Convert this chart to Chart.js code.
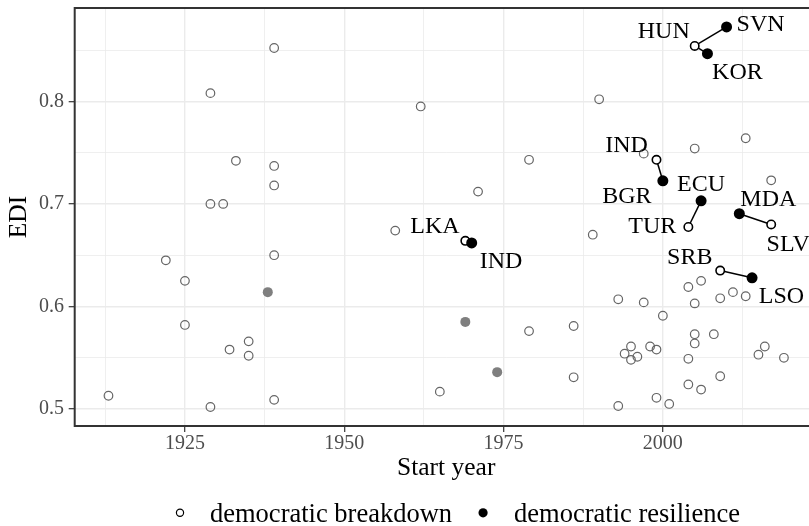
<!DOCTYPE html>
<html>
<head>
<meta charset="utf-8">
<script src="https://cdn.jsdelivr.net/npm/chart.js@4/dist/chart.umd.min.js"></script>
<style>
  html, body { margin: 0; padding: 0; overflow: hidden; background: #ffffff; width: 809px; height: 526px; }
  canvas { display: block; }
</style>
</head>
<body>
<canvas id="edi" width="830" height="526"></canvas>
<script>
// ---- data ---------------------------------------------------------------
// Unmatched breakdown episodes: start year and EDI
const breakdownYear = [
  1913, 1922, 1925, 1925, 1929, 1929, 1929, 1931, 1932, 1933, 1935, 1935,
  1939, 1939, 1939, 1939, 1939, 1958, 1962, 1965, 1971, 1979, 1979, 1986,
  1986, 1989, 1990, 1993, 1993, 1994, 1995, 1995, 1996, 1997, 1997, 1998,
  1999, 1999, 2000, 2001, 2004, 2004, 2004, 2005, 2005, 2005, 2005, 2006,
  2006, 2008, 2009, 2009, 2011, 2013, 2013, 2015, 2016, 2017, 2019
];
const breakdownEDI = [
  0.513, 0.645, 0.625, 0.582, 0.808, 0.700, 0.502, 0.700, 0.558, 0.742, 0.566, 0.552,
  0.852, 0.737, 0.718, 0.650, 0.509, 0.674, 0.795, 0.517, 0.712, 0.743, 0.576, 0.581,
  0.531, 0.670, 0.802, 0.607, 0.503, 0.554, 0.561, 0.548, 0.551, 0.749, 0.604, 0.561,
  0.558, 0.511, 0.591, 0.505, 0.619, 0.549, 0.524, 0.754, 0.603, 0.573, 0.564, 0.625,
  0.519, 0.573, 0.608, 0.532, 0.614, 0.764, 0.610, 0.553, 0.561, 0.723, 0.550
];

// Unmatched resilience episodes
const resilienceYear = [1938, 1969, 1974];
const resilienceEDI = [0.614, 0.585, 0.536];

// Matched pairs (labelled)
const matchedBreakdownCode = ['HUN', 'IND', 'TUR', 'SLV', 'SRB', 'LKA'];
const matchedBreakdownYear = [2005, 1999, 2004, 2017, 2009, 1969];
const matchedBreakdownEDI = [0.854, 0.743, 0.6775, 0.680, 0.635, 0.664];

const matchedResilienceCode = ['SVN', 'KOR', 'BGR', 'ECU', 'MDA', 'LSO', 'IND'];
const matchedResilienceYear = [2010, 2007, 2000, 2006, 2012, 2014, 1970];
const matchedResilienceEDI = [0.8725, 0.8465, 0.7225, 0.703, 0.6905, 0.628, 0.662];
// breakdown case each resilience case is paired with
const matchedPartner = ['HUN', 'HUN', 'IND', 'TUR', 'SLV', 'SRB', 'LKA'];

// Axes
const xMajorTicks = [1925, 1950, 1975, 2000];
const xMinorTicks = [1912.5, 1937.5, 1962.5, 1987.5, 2012.5];
const yMajorTicks = [0.5, 0.6, 0.7, 0.8];
const yMinorTicks = [0.55, 0.65, 0.75, 0.85];
const xTitle = 'Start year';
const yTitle = 'EDI';
const legendLabels = ['democratic breakdown', 'democratic resilience'];

// ---- styling ------------------------------------------------------------
const SERIF = '"Liberation Serif", "Times New Roman", serif';
// label nudges (pixels from the point to the centre of the label's capitals)
const breakdownLabelShift = [[-31, -15.5], [-30, -15.3], [-36, -2.2], [17, 18.5], [-30.4, -14.7], [-30.3, -15.7]];
const resilienceLabelShift = [[34, -3.7], [30, 17.6], [-36, 14], [0, -17.4], [29, -15.2], [29.4, 17.3], [29.3, 17.2]];

const xy = (xs, ys) => xs.map((x, i) => ({ x: x, y: ys[i] }));
const near = (list, v) => list.some(t => Math.abs(t - v) < 1e-6);

// connector segments between matched cases
const connectors = matchedResilienceCode.map((code, i) => {
  const j = matchedBreakdownCode.indexOf(matchedPartner[i]);
  return {
    data: [
      { x: matchedBreakdownYear[j], y: matchedBreakdownEDI[j] },
      { x: matchedResilienceYear[i], y: matchedResilienceEDI[i] }
    ],
    showLine: true,
    borderColor: '#000000',
    borderWidth: 1.5,
    pointRadius: 0,
    order: 2
  };
});

const datasets = [
  {
    label: 'matched resilience',
    data: xy(matchedResilienceYear, matchedResilienceEDI),
    pointRadius: 5.5,
    pointBackgroundColor: '#000000',
    pointBorderWidth: 0,
    order: 0,
    codes: matchedResilienceCode,
    shifts: resilienceLabelShift
  },
  {
    label: 'matched breakdown',
    data: xy(matchedBreakdownYear, matchedBreakdownEDI),
    pointRadius: 4.2,
    pointBackgroundColor: '#ffffff',
    pointBorderColor: '#000000',
    pointBorderWidth: 1.6,
    order: 1,
    codes: matchedBreakdownCode,
    shifts: breakdownLabelShift
  },
  ...connectors,
  {
    label: 'resilience',
    data: xy(resilienceYear, resilienceEDI),
    pointRadius: 5,
    pointBackgroundColor: '#7f7f7f',
    pointBorderWidth: 0,
    order: 3
  },
  {
    label: 'breakdown',
    data: xy(breakdownYear, breakdownEDI),
    pointRadius: 4.3,
    pointBackgroundColor: 'rgba(0,0,0,0)',
    pointBorderColor: '#666666',
    pointBorderWidth: 1.2,
    order: 4
  }
];

// ---- plugins --------------------------------------------------------------
const panelBorder = {
  id: 'panelBorder',
  afterDatasetsDraw(chart) {
    const { ctx, chartArea: a } = chart;
    ctx.save();
    ctx.strokeStyle = '#333333';
    ctx.lineWidth = 2;
    ctx.strokeRect(a.left, a.top, a.right - a.left, a.bottom - a.top);
    ctx.restore();
  }
};

const caseLabels = {
  id: 'caseLabels',
  afterDraw(chart) {
    const { ctx } = chart;
    const size = 24;
    ctx.save();
    ctx.font = size + 'px ' + SERIF;
    ctx.fillStyle = '#000000';
    ctx.textAlign = 'center';
    ctx.textBaseline = 'alphabetic';
    chart.data.datasets.forEach((ds, di) => {
      if (!ds.codes) return;
      const meta = chart.getDatasetMeta(di);
      meta.data.forEach((pt, i) => {
        const [dx, dy] = ds.shifts[i];
        ctx.fillText(ds.codes[i], pt.x + dx, pt.y + dy + 0.331 * size);
      });
    });
    ctx.restore();
  }
};

const bottomLegend = {
  id: 'bottomLegend',
  afterDraw(chart) {
    const { ctx } = chart;
    const cy = 512.8, base = 521.7;
    ctx.save();
    ctx.font = '26.5px ' + SERIF;
    ctx.fillStyle = '#000000';
    ctx.textAlign = 'left';
    ctx.textBaseline = 'alphabetic';
    let x = 180;
    ctx.beginPath();
    ctx.arc(x, cy, 3.6, 0, Math.PI * 2);
    ctx.strokeStyle = '#000000';
    ctx.lineWidth = 1.2;
    ctx.stroke();
    ctx.fillText(legendLabels[0], x + 30, base);
    x += 30 + ctx.measureText(legendLabels[0]).width + 31;
    ctx.beginPath();
    ctx.arc(x, cy, 4.6, 0, Math.PI * 2);
    ctx.fill();
    ctx.fillText(legendLabels[1], x + 31, base);
    ctx.restore();
  }
};

// ---- chart ----------------------------------------------------------------
const gridOpts = (majors) => ({
  color: '#ebebeb',
  lineWidth: c => near(majors, c.tick.value) ? 1.4 : 0.8,
  tickColor: c => near(majors, c.tick.value) ? '#333333' : 'rgba(0,0,0,0)',
  tickLength: 6,
  tickWidth: 1.2,
  drawOnChartArea: true
});

new Chart(document.getElementById('edi'), {
  type: 'scatter',
  data: { datasets: datasets },
  options: {
    responsive: false,
    animation: false,
    devicePixelRatio: 1,
    events: [],
    layout: { padding: { top: 8, right: 12.3, bottom: 0, left: 0 } },
    plugins: { legend: { display: false }, tooltip: { enabled: false } },
    scales: {
      x: {
        type: 'linear',
        min: 1907.7,
        max: 2024.3,
        afterBuildTicks: s => {
          s.ticks = [...xMinorTicks, ...xMajorTicks].sort((a, b) => a - b).map(v => ({ value: v }));
        },
        afterFit: s => { s.height = 100; s.paddingLeft = 0; s.paddingRight = 0; },
        ticks: {
          callback: v => near(xMajorTicks, v) ? String(v) : '',
          autoSkip: false,
          maxRotation: 0,
          padding: 0,
          color: '#4d4d4d',
          font: { family: SERIF, size: 20 }
        },
        grid: gridOpts(xMajorTicks),
        border: { display: false },
        title: {
          display: true,
          text: xTitle,
          color: '#000000',
          font: { family: SERIF, size: 25.5 },
          padding: { top: 0, bottom: 42.3 }
        }
      },
      y: {
        type: 'linear',
        min: 0.4835,
        max: 0.891,
        afterBuildTicks: s => {
          s.ticks = [...yMinorTicks, ...yMajorTicks].sort((a, b) => a - b).map(v => ({ value: v }));
        },
        afterFit: s => { s.width = 74.7; s.paddingTop = 0; s.paddingBottom = 0; },
        ticks: {
          callback: v => near(yMajorTicks, v) ? v.toFixed(1) : '',
          autoSkip: false,
          padding: 4.7,
          color: '#4d4d4d',
          font: { family: SERIF, size: 20 }
        },
        grid: gridOpts(yMajorTicks),
        border: { display: false },
        title: {
          display: true,
          text: yTitle,
          color: '#000000',
          font: { family: SERIF, size: 25.5 },
          padding: { top: 3.7, bottom: 0 }
        }
      }
    }
  },
  plugins: [panelBorder, caseLabels, bottomLegend]
});
</script>
</body>
</html>
